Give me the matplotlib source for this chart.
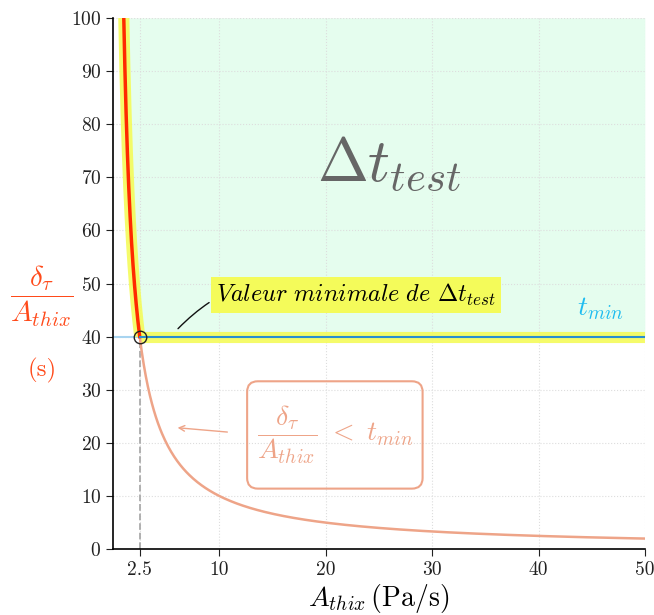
import numpy as np
import matplotlib
matplotlib.use("Agg")
import matplotlib.pyplot as plt
from matplotlib.patches import FancyBboxPatch

plt.rcParams['mathtext.fontset'] = 'cm'
plt.rcParams['font.family'] = 'serif'
plt.rcParams['font.serif'] = ['cmr10', 'DejaVu Serif']
plt.rcParams['axes.formatter.use_mathtext'] = True

# data
delta_tau = 100.0
t_min = 40.0
x_crit = delta_tau / t_min
x_ticks = [2.5, 10, 20, 30, 40, 50]
x_ticklabels = ['2.5', '10', '20', '30', '40', '50']
y_ticks = [0, 10, 20, 30, 40, 50, 60, 70, 80, 90, 100]
x_max = 50

fig = plt.figure(figsize=(6.54, 6.15), dpi=100)
ax = fig.add_axes([0.173, 0.107, 0.813, 0.864])

salmon = '#eea488'
red = '#ff2a00'
yellow = '#f4fb5a'
blue = '#2a8fd0'
cyan = '#1ebcf0'

# green region
xg = np.linspace(1.0, x_max, 800)
yg = np.maximum(delta_tau / xg, t_min)
ax.fill_between(xg, yg, 100, color='#e5fdee', zorder=0, lw=0)

# upper curve (x from 1 to x_crit)
xu = np.linspace(1.0, x_crit, 300)
ax.plot(xu, delta_tau / xu, color=yellow, lw=8, solid_capstyle='butt', zorder=2, alpha=0.9)
ax.plot(xu, delta_tau / xu, color=red, lw=2.5, zorder=3)

# t_min line
ax.axhline(t_min, color='#a8d4f0', lw=1.5, zorder=1)
ax.plot([x_crit, x_max], [t_min, t_min], color=yellow, lw=8, solid_capstyle='butt', zorder=2, alpha=0.9)
ax.plot([x_crit, x_max], [t_min, t_min], color=blue, lw=1.5, zorder=3)

# lower curve
xl = np.linspace(x_crit, x_max, 500)
ax.plot(xl, delta_tau / xl, color=salmon, lw=1.8, zorder=2)

# dashed vertical
ax.plot([x_crit, x_crit], [0, t_min], color='#aaaaaa', ls='--', lw=1.3, zorder=1)
ax.plot([x_crit], [t_min], marker='o', ms=9, mfc='none', mec='#222222', mew=1.0, zorder=4)

ax.set_xlim(0, x_max)
ax.set_ylim(0, 100)
ax.set_xticks(x_ticks)
ax.set_xticklabels(x_ticklabels)
ax.set_yticks(y_ticks)
ax.tick_params(direction='out', length=5, labelsize=14, colors='#222222')
for s in ['top', 'right']:
    ax.spines[s].set_visible(False)
for s in ['left', 'bottom']:
    ax.spines[s].set_linewidth(1.2)
ax.grid(True, ls=':', color='#dddddd', lw=0.8)
ax.set_axisbelow(True)

ax.set_xlabel(r'$A_{thix}\,$(Pa/s)', fontsize=20, labelpad=2)

# y label
fig.text(0.064, 0.518, r'$\dfrac{\delta_\tau}{A_{thix}}$', fontsize=21, color='#ff4a1a',
         ha='center', va='center')
fig.text(0.064, 0.398, '(s)', fontsize=18, color='#ff4a1a', ha='center', va='center')

# big Delta t
ax.text(26, 72.5, r'$\Delta t_{test}$', fontsize=44, color='#666666', ha='center', va='center')

# t_min label
ax.text(45.8, 45.3, r'$t_{min}$', fontsize=20, color=cyan, ha='center', va='center')

# annotation
ax.annotate(r'$\mathit{Valeur\ minimale\ de\ }\Delta t_{test}$', xy=(6.1, 41.5), xytext=(9.7, 47.8),
            fontsize=17.5, ha='left', va='center',
            bbox=dict(boxstyle='square,pad=0.2', fc=yellow, ec='none'),
            arrowprops=dict(arrowstyle='-', color='#111111', lw=1.0,
                            connectionstyle='arc3,rad=0.35', shrinkA=2, shrinkB=0))

# box annotation
ax.text(20.9, 21.5, r'$\dfrac{\delta_\tau}{A_{thix}}\ <\ t_{min}$', fontsize=20, color=salmon,
        ha='center', va='center')
box = FancyBboxPatch((12.6, 11.4), 16.5, 20.2,
                     boxstyle='round,pad=0,rounding_size=1.0', mutation_aspect=2.0,
                     fc='none', ec=salmon, lw=1.5, zorder=3)
ax.add_patch(box)
ax.annotate('', xy=(5.8, 22.9), xytext=(11.0, 22.0),
            arrowprops=dict(arrowstyle='->', color=salmon, lw=1.0))

fig.savefig('out.png', dpi=100)
